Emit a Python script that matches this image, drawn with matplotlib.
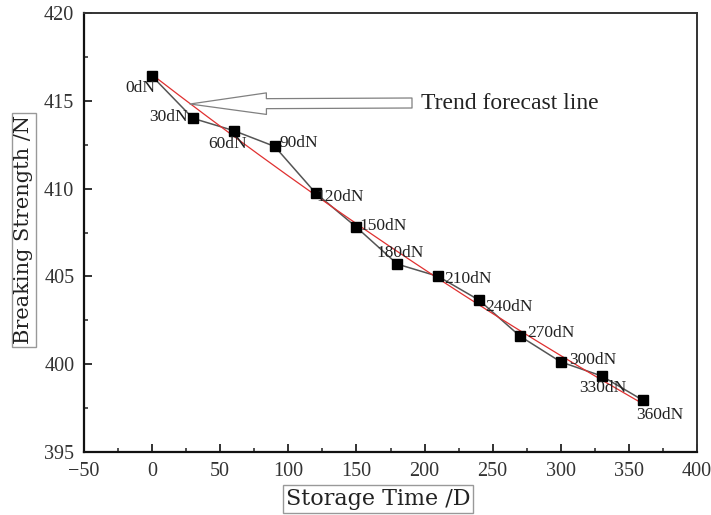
import numpy as np
import matplotlib
matplotlib.use("Agg")
import matplotlib.pyplot as plt
from matplotlib.ticker import MultipleLocator

# data
storage_days = [0, 30, 60, 90, 120, 150, 180, 210, 240, 270, 300, 330, 360]
strength = [416.4, 414.0, 413.3, 412.4, 409.75, 407.8, 405.7, 405.0, 403.65,
            401.6, 400.13, 399.33, 397.96]
point_labels = ["0dN", "30dN", "60dN", "90dN", "120dN", "150dN", "180dN",
                "210dN", "240dN", "270dN", "300dN", "330dN", "360dN"]
# label offsets in pixels (dx, dy; dy positive = down)
label_offsets = [(-12, 12), (-24, -1), (-6, 13), (24, -3), (25, 4), (27, -1),
                 (3, -11), (30, 3), (30, 7), (31, -3), (32, -2), (1, 12), (17, 15)]

xlim = (-50, 400)
ylim = (395, 420)

W, H = 711, 515
fig = plt.figure(figsize=(W / 100, H / 100), dpi=100)
ax = fig.add_axes([84 / W, 1 - 452 / H, (697 - 84) / W, (452 - 13) / H])

serif = ["Liberation Serif", "DejaVu Serif"]

# connecting gray line
ax.plot(storage_days, strength, color="#555555", lw=1.1, zorder=2)
# trend line (quadratic fit)
coef = np.polyfit(storage_days, strength, 2)
xs = np.linspace(storage_days[0], storage_days[-1] - 3, 200)
ax.plot(xs, np.polyval(coef, xs), color="#e03030", lw=0.9, zorder=3)
# markers
ax.plot(storage_days, strength, ls="none", marker="s", ms=7.8, color="black", zorder=4)

for x, y, lab, (dx, dy) in zip(storage_days, strength, point_labels, label_offsets):
    ax.annotate(lab, (x, y), xytext=(dx * 0.72, -dy * 0.72), textcoords="offset points",
                ha="center", va="center", fontsize=12.5, family=serif, color="#222222",
                zorder=5)

# arrow for trend forecast line
px_per_x = (697 - 84) / (xlim[1] - xlim[0])
px_per_y = (452 - 13) / (ylim[1] - ylim[0])
def px2data(px, py):
    return xlim[0] + (px - 84) / px_per_x, ylim[1] - (py - 13) / px_per_y

tip = px2data(190, 104)
tail = px2data(412, 103)
ax.annotate("", xy=tip, xytext=tail,
            arrowprops=dict(arrowstyle="simple,head_length=5.5,head_width=1.55,tail_width=0.72",
                            fc="white", ec="#808080", lw=0.9, shrinkA=0, shrinkB=0,
                            mutation_scale=10),
            zorder=6)
tx, ty = px2data(421, 103)
ax.text(tx, ty, "Trend forecast line", fontsize=17, family=serif, color="#222222",
        ha="left", va="center")

ax.set_xlim(*xlim)
ax.set_ylim(*ylim)
ax.xaxis.set_major_locator(MultipleLocator(50))
ax.xaxis.set_minor_locator(MultipleLocator(25))
ax.yaxis.set_major_locator(MultipleLocator(5))
ax.yaxis.set_minor_locator(MultipleLocator(2.5))
ax.tick_params(which="both", direction="in", top=False, right=False, color="#222222")
ax.tick_params(which="major", length=6, width=1.3, pad=7, labelsize=14.5, labelcolor="#333333")
ax.tick_params(which="minor", length=3, width=1.1)
for lab in ax.get_xticklabels() + ax.get_yticklabels():
    lab.set_family(serif)
ax.xaxis.set_major_formatter(matplotlib.ticker.FuncFormatter(
    lambda v, p: ("\u2212" + str(int(-v))) if v < 0 else str(int(v))))

for side in ["left", "bottom"]:
    ax.spines[side].set_linewidth(1.6)
    ax.spines[side].set_color("#111111")
for side in ["top", "right"]:
    ax.spines[side].set_linewidth(1.4)
    ax.spines[side].set_color("#333333")

box = dict(boxstyle="square,pad=0.12", fc="white", ec="#999999", lw=1)
fig.text(378 / W, 1 - 499 / H, "Storage Time /D", fontsize=16, family=["DejaVu Serif"],
         ha="center", va="center", color="#222222", bbox=box)
fig.text(24 / W, 1 - 230 / H, "Breaking Strength /N", fontsize=15, family=["DejaVu Serif"],
         rotation=90, ha="center", va="center", color="#222222", bbox=box)

fig.savefig("out.png", dpi=100)
